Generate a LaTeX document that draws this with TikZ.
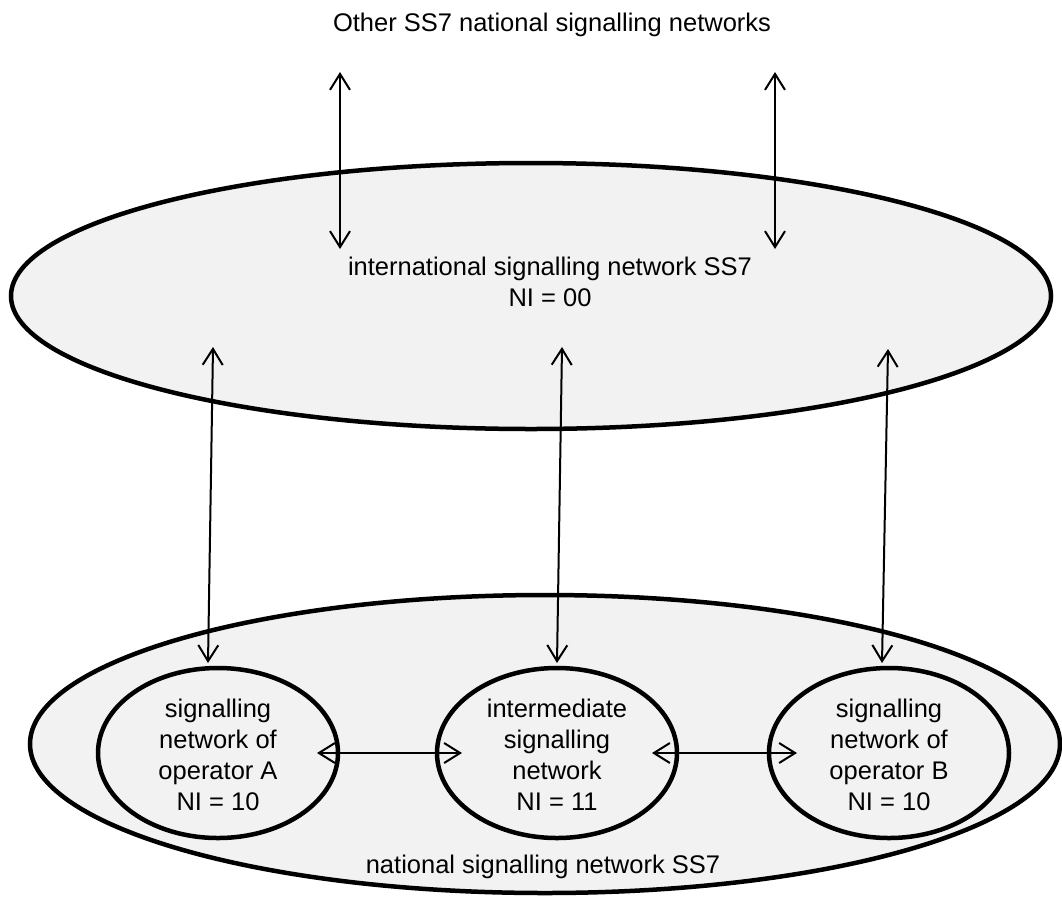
\documentclass[tikz,border=0pt]{standalone}
\usepackage{fontspec}
\setmainfont{Liberation Sans}
\usetikzlibrary{arrows.meta,shapes.geometric}
\definecolor{fillg}{RGB}{242,242,242}
\begin{document}
\begin{tikzpicture}[x=1pt,y=-1pt,
  net/.style={ellipse, draw=black, line width=4.5pt, fill=fillg, inner sep=0pt},
  lbl/.style={align=center, font=\fontsize{25.5}{31}\selectfont, inner sep=0pt},
  link/.style={{Straight Barb[length=16pt,width=20pt]}-{Straight Barb[length=16pt,width=20pt]}, line width=2pt}
]
\useasboundingbox (0,0) rectangle (1062,900);
% ellipses
\node[net, minimum width=1040pt, minimum height=266pt] (intl) at (531,296) {};
\node[net, minimum width=1030pt, minimum height=298pt] (natl) at (545,744) {};
\node[net, minimum width=240pt, minimum height=170pt] (opA) at (218,753) {};
\node[net, minimum width=240pt, minimum height=170pt] (mid) at (557,753) {};
\node[net, minimum width=240pt, minimum height=170pt] (opB) at (889,753) {};
% texts
\node[lbl] (other) at (552,25) {Other SS7 national signalling networks};
\node[lbl] (intltxt) at (550,282) {international signalling network SS7\\NI = 00};
\node[lbl] (opAtxt) at (218,755) {signalling\\network of\\operator A\\NI = 10};
\node[lbl] (midtxt) at (557,755) {intermediate\\signalling\\network\\NI = 11};
\node[lbl] (opBtxt) at (889,755) {signalling\\network of\\operator B\\NI = 10};
\node[lbl] (natltxt) at (543,867) {national signalling network SS7};
% connector ends
\coordinate (t1a) at (340,72);  \coordinate (t1b) at (340,249);
\coordinate (t2a) at (775,72);  \coordinate (t2b) at (775,249);
\coordinate (v1a) at (213,347); \coordinate (v1b) at (208,663);
\coordinate (v2a) at (562,347); \coordinate (v2b) at (557,663);
\coordinate (v3a) at (888,349); \coordinate (v3b) at (882,663);
\coordinate (h1a) at (317,753); \coordinate (h1b) at (462,753);
\coordinate (h2a) at (652,753); \coordinate (h2b) at (797,753);
% connectors
\draw[link] (t1a) -- (t1b);
\draw[link] (t2a) -- (t2b);
\draw[link] (v1a) -- (v1b);
\draw[link] (v2a) -- (v2b);
\draw[link] (v3a) -- (v3b);
\draw[link] (h1a) -- (h1b);
\draw[link] (h2a) -- (h2b);
\end{tikzpicture}
\end{document}
